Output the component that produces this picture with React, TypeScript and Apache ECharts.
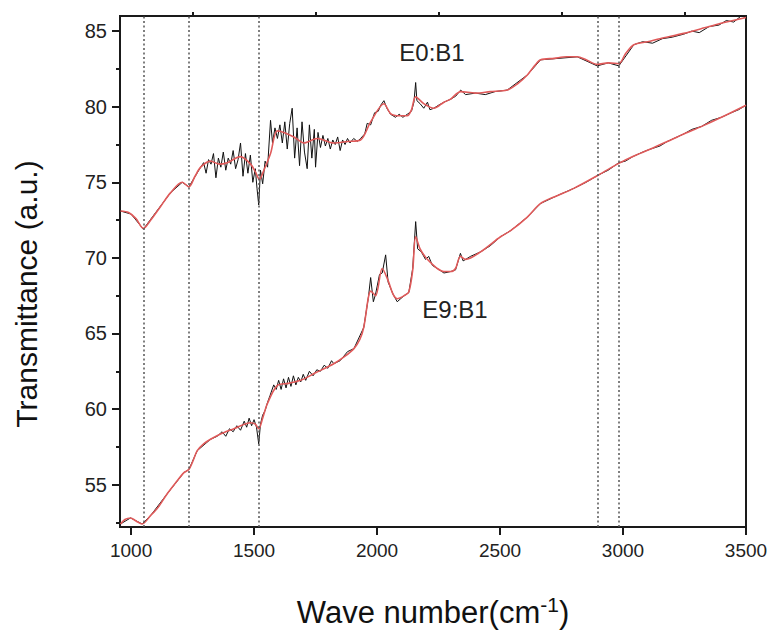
import React, { useEffect, useRef } from "react";
import * as echarts from "echarts";

// ---- axis ticks / reference lines ----
const xMajorTicks = [1000, 1500, 2000, 2500, 3000, 3500];
const xMinorTicks = [1250, 1750, 2250, 2750, 3250];
const yMajorTicks = [55, 60, 65, 70, 75, 80, 85];
const yMinorTicks = [52.5, 57.5, 62.5, 67.5, 72.5, 77.5, 82.5];
const markerLines = [1052, 1235, 1519, 2899, 2983];
const seriesNames = ["E0:B1", "E9:B1"];

// ---- E0:B1 smoothed (red) ----
const e0Smooth: number[][] = [
  [957, 73.1], [990, 73.0], [1020, 72.6], [1050, 71.95], [1080, 72.5], [1120, 73.4], [1160, 74.3],
  [1208, 75.0], [1235, 74.7], [1260, 75.4], [1283, 76.0], [1323, 76.4], [1360, 76.2], [1391, 76.3],
  [1445, 76.7], [1486, 76.2], [1505, 75.7], [1522, 75.2], [1540, 75.8], [1567, 76.9], [1594, 78.4],
  [1621, 78.3], [1662, 78.0], [1703, 77.6], [1757, 77.9], [1824, 77.6], [1880, 77.7], [1933, 77.8],
  [1974, 79.0], [2028, 80.2], [2055, 79.55], [2090, 79.4], [2123, 79.4], [2140, 79.8], [2157, 80.65],
  [2190, 80.2], [2231, 79.9], [2272, 80.3], [2299, 80.5], [2340, 81.0], [2400, 80.9], [2460, 81.0],
  [2529, 81.1], [2570, 81.5], [2611, 82.1], [2640, 82.7], [2665, 83.1], [2720, 83.2], [2770, 83.3],
  [2814, 83.3], [2850, 83.1], [2895, 82.8], [2940, 82.9], [2983, 82.85], [3010, 83.5], [3044, 84.1],
  [3100, 84.3], [3150, 84.5], [3247, 84.85], [3350, 85.3], [3420, 85.6], [3500, 85.9],
];

// ---- E0:B1 raw (black) ----
const e0Raw: number[][] = [
  [957, 73.1], [1000, 72.9], [1050, 71.9], [1100, 73.0], [1160, 74.3], [1208, 75.0], [1235, 74.7],
  [1283, 76.0], [1295, 76.3], [1305, 75.6], [1315, 76.5], [1325, 76.2], [1335, 76.9], [1345, 75.3],
  [1355, 76.6], [1365, 76.0], [1375, 77.0], [1385, 75.8], [1395, 76.6], [1405, 76.2], [1415, 77.1],
  [1425, 75.9], [1435, 76.5], [1445, 77.6], [1455, 75.4], [1465, 76.9], [1475, 75.6], [1485, 76.8],
  [1495, 75.0], [1505, 75.9], [1512, 74.6], [1519, 73.5], [1526, 75.8], [1535, 74.9], [1545, 76.4],
  [1555, 76.0], [1567, 79.1], [1575, 77.6], [1585, 78.6], [1595, 77.9], [1605, 78.8], [1615, 77.6],
  [1625, 79.0], [1635, 77.2], [1645, 78.9], [1655, 79.9], [1665, 76.6], [1675, 78.6], [1685, 76.1],
  [1695, 79.0], [1705, 77.0], [1716, 75.9], [1725, 78.8], [1735, 76.6], [1745, 78.5], [1750, 76.0],
  [1760, 78.3], [1770, 77.3], [1780, 78.1], [1790, 77.4], [1800, 77.9], [1810, 77.2], [1820, 77.8],
  [1830, 77.5], [1840, 78.0], [1850, 77.1], [1860, 77.8], [1870, 77.5], [1880, 77.9], [1890, 77.6],
  [1905, 77.9], [1920, 77.7], [1933, 77.9], [1950, 78.2], [1960, 78.9], [1974, 78.8], [1990, 79.6],
  [2005, 79.7], [2015, 80.1], [2028, 80.4], [2040, 79.9], [2055, 79.5], [2075, 79.3], [2090, 79.5],
  [2105, 79.3], [2123, 79.5], [2140, 79.7], [2150, 80.3], [2157, 81.6], [2162, 80.4], [2175, 80.2],
  [2190, 79.9], [2205, 80.3], [2215, 79.8], [2231, 79.9], [2250, 80.1], [2272, 80.3], [2300, 80.5],
  [2320, 80.7], [2340, 81.1], [2360, 80.8], [2400, 80.9], [2440, 80.8], [2480, 81.0], [2529, 81.1],
  [2611, 82.1], [2665, 83.1], [2814, 83.3], [2895, 82.7], [2940, 82.9], [2983, 82.7], [3044, 84.1],
  [3080, 84.3], [3120, 84.2], [3160, 84.5], [3200, 84.6], [3247, 84.8], [3280, 85.0], [3310, 84.9],
  [3350, 85.3], [3390, 85.4], [3420, 85.7], [3450, 85.6], [3480, 86.0], [3500, 85.9],
];

// ---- E9:B1 smoothed (red) ----
const e9Smooth: number[][] = [
  [957, 52.4], [975, 52.7], [998, 52.8], [1020, 52.6], [1045, 52.4], [1079, 52.95], [1110, 53.5],
  [1147, 54.4], [1180, 55.1], [1215, 55.8], [1235, 56.0], [1250, 56.5], [1269, 57.25], [1295, 57.7],
  [1323, 58.0], [1370, 58.4], [1418, 58.7], [1486, 59.1], [1505, 59.0], [1519, 58.7], [1535, 59.4],
  [1554, 60.35], [1594, 61.55], [1640, 61.7], [1689, 61.9], [1750, 62.4], [1824, 63.0], [1870, 63.5],
  [1906, 64.0], [1930, 64.6], [1946, 65.4], [1965, 67.4], [1974, 67.8], [1994, 67.5], [2021, 69.3],
  [2045, 68.5], [2065, 67.6], [2082, 67.3], [2110, 67.5], [2129, 67.75], [2145, 69.2], [2157, 71.4],
  [2175, 70.6], [2197, 70.05], [2217, 69.7], [2245, 69.3], [2272, 69.1], [2300, 69.1], [2319, 69.3],
  [2339, 70.1], [2360, 69.9], [2421, 70.4], [2502, 71.4], [2543, 71.8], [2611, 72.7], [2665, 73.6],
  [2730, 74.1], [2800, 74.6], [2902, 75.5], [2983, 76.25], [3040, 76.7], [3112, 77.2], [3180, 77.7],
  [3247, 78.2], [3320, 78.7], [3400, 79.3], [3500, 80.1],
];

// ---- E9:B1 raw (black) ----
const e9Raw: number[][] = [
  [957, 52.4], [998, 52.8], [1045, 52.4], [1079, 52.95], [1147, 54.4], [1215, 55.8], [1235, 56.0],
  [1269, 57.25], [1323, 58.0], [1350, 58.2], [1370, 58.5], [1385, 58.2], [1400, 58.7], [1415, 58.5],
  [1430, 58.9], [1445, 58.6], [1460, 59.2], [1470, 58.8], [1480, 59.4], [1490, 58.9], [1500, 59.3],
  [1510, 58.8], [1519, 57.7], [1526, 59.0], [1535, 59.6], [1545, 59.9], [1554, 60.4], [1565, 60.9],
  [1580, 61.6], [1590, 61.3], [1600, 61.9], [1610, 61.3], [1620, 62.0], [1630, 61.4], [1640, 62.1],
  [1650, 61.5], [1660, 62.2], [1670, 61.6], [1680, 62.1], [1690, 61.8], [1700, 62.3], [1710, 61.9],
  [1725, 62.5], [1740, 62.2], [1755, 62.6], [1770, 62.5], [1785, 62.9], [1800, 62.7], [1815, 63.2],
  [1824, 63.0], [1850, 63.2], [1880, 63.8], [1906, 64.0], [1946, 65.4], [1965, 67.4], [1974, 68.7],
  [1985, 67.1], [1994, 67.6], [2010, 68.9], [2021, 69.0], [2035, 70.2], [2045, 68.4], [2065, 67.6],
  [2082, 67.1], [2110, 67.5], [2129, 67.7], [2145, 69.3], [2157, 72.4], [2165, 70.6], [2180, 70.4],
  [2197, 69.9], [2210, 70.1], [2225, 69.5], [2245, 69.3], [2272, 69.0], [2300, 69.1], [2319, 69.2],
  [2339, 70.3], [2350, 69.8], [2380, 70.1], [2421, 70.4], [2460, 70.8], [2502, 71.4], [2543, 71.8],
  [2611, 72.7], [2665, 73.6], [2730, 74.1], [2800, 74.6], [2850, 75.0], [2902, 75.5], [2940, 75.8],
  [2983, 76.3], [3010, 76.4], [3040, 76.7], [3080, 77.0], [3112, 77.2], [3150, 77.4], [3180, 77.7],
  [3220, 78.0], [3247, 78.2], [3280, 78.5], [3320, 78.7], [3360, 79.1], [3400, 79.3], [3440, 79.6],
  [3470, 79.8], [3500, 80.1],
];

const FONT = "'Liberation Sans', Arial, Helvetica, sans-serif";
const INK = "#1a1a1a";
const RED = "#e05a5a";

export default function App() {
  const ref = useRef<HTMLDivElement>(null);

  useEffect(() => {
    document.body.style.margin = "0";
    if (!ref.current) return;
    const chart = echarts.init(ref.current, undefined, { renderer: "svg" });

    const xBase = { type: "value", min: 955, max: 3500, splitLine: { show: false } };
    const yBase = { type: "value", min: 52.2, max: 86, splitLine: { show: false } };
    const plain = (v: number) => String(v);

    chart.setOption({
      animation: false,
      backgroundColor: "#ffffff",
      grid: {
        left: 120, right: 26, top: 16, bottom: 107,
        show: true, borderColor: INK, borderWidth: 2, backgroundColor: "transparent",
      },
      xAxis: [
        {
          ...xBase,
          axisLine: { show: true, lineStyle: { color: INK, width: 2 } },
          axisTick: { show: true, customValues: xMajorTicks, length: 8, lineStyle: { color: INK, width: 2 } },
          axisLabel: { show: true, customValues: xMajorTicks, formatter: plain, margin: 14, fontSize: 19, color: "#222", fontFamily: FONT },
        },
        {
          ...xBase,
          axisLine: { show: false },
          axisTick: { show: true, customValues: xMinorTicks, length: 4, lineStyle: { color: INK, width: 2 } },
          axisLabel: { show: false },
        },
      ],
      yAxis: [
        {
          ...yBase,
          position: "left",
          axisLine: { show: true, lineStyle: { color: INK, width: 2 } },
          axisTick: { show: true, customValues: yMajorTicks, length: 8, lineStyle: { color: INK, width: 2 } },
          axisLabel: { show: true, customValues: yMajorTicks, formatter: plain, margin: 13, fontSize: 20, color: "#222", fontFamily: FONT },
        },
        {
          ...yBase,
          position: "left",
          axisLine: { show: false },
          axisTick: { show: true, customValues: yMinorTicks, length: 4, lineStyle: { color: INK, width: 2 } },
          axisLabel: { show: false },
        },
      ],
      series: [
        {
          name: seriesNames[0] + " raw", type: "line", data: e0Raw, showSymbol: false, silent: true, z: 2,
          lineStyle: { color: "#111", width: 1 },
          markLine: {
            symbol: "none", silent: true, label: { show: false },
            lineStyle: { type: [2, 2.5], color: "#555", width: 1.5 },
            data: markerLines.map((v) => ({ xAxis: v })),
          },
        },
        {
          name: seriesNames[1] + " raw", type: "line", data: e9Raw, showSymbol: false, silent: true, z: 2,
          lineStyle: { color: "#111", width: 1 },
        },
        {
          name: seriesNames[0], type: "line", data: e0Smooth, showSymbol: false, silent: true, z: 3,
          smooth: 0.3, lineStyle: { color: RED, width: 1.6 },
        },
        {
          name: seriesNames[1], type: "line", data: e9Smooth, showSymbol: false, silent: true, z: 3,
          smooth: 0.3, lineStyle: { color: RED, width: 1.6 },
        },
      ],
      graphic: [
        {
          type: "text", x: 432, y: 52, z: 10,
          style: { text: seriesNames[0], fontSize: 24, fontFamily: FONT, fill: "#222", align: "center", verticalAlign: "middle" },
        },
        {
          type: "text", x: 455, y: 309, z: 10,
          style: { text: seriesNames[1], fontSize: 24, fontFamily: FONT, fill: "#222", align: "center", verticalAlign: "middle" },
        },
        {
          type: "text", x: 26, y: 294, rotation: Math.PI / 2, z: 10,
          style: { text: "Transmittance (a.u.)", fontSize: 30, fontFamily: FONT, fill: "#111", align: "center", verticalAlign: "middle" },
        },
        {
          type: "text", x: 433, y: 612, z: 10,
          style: {
            text: "{a|Wave number(cm}{s|-1}{a|)}",
            align: "center", verticalAlign: "middle",
            rich: {
              a: { fontSize: 31, fontFamily: FONT, fill: "#111", lineHeight: 36 },
              s: { fontSize: 21, fontFamily: FONT, fill: "#111", verticalAlign: "top", lineHeight: 22 },
            },
          },
        },
      ],
    });

    return () => chart.dispose();
  }, []);

  return <div ref={ref} style={{ width: 772, height: 634 }} />;
}
